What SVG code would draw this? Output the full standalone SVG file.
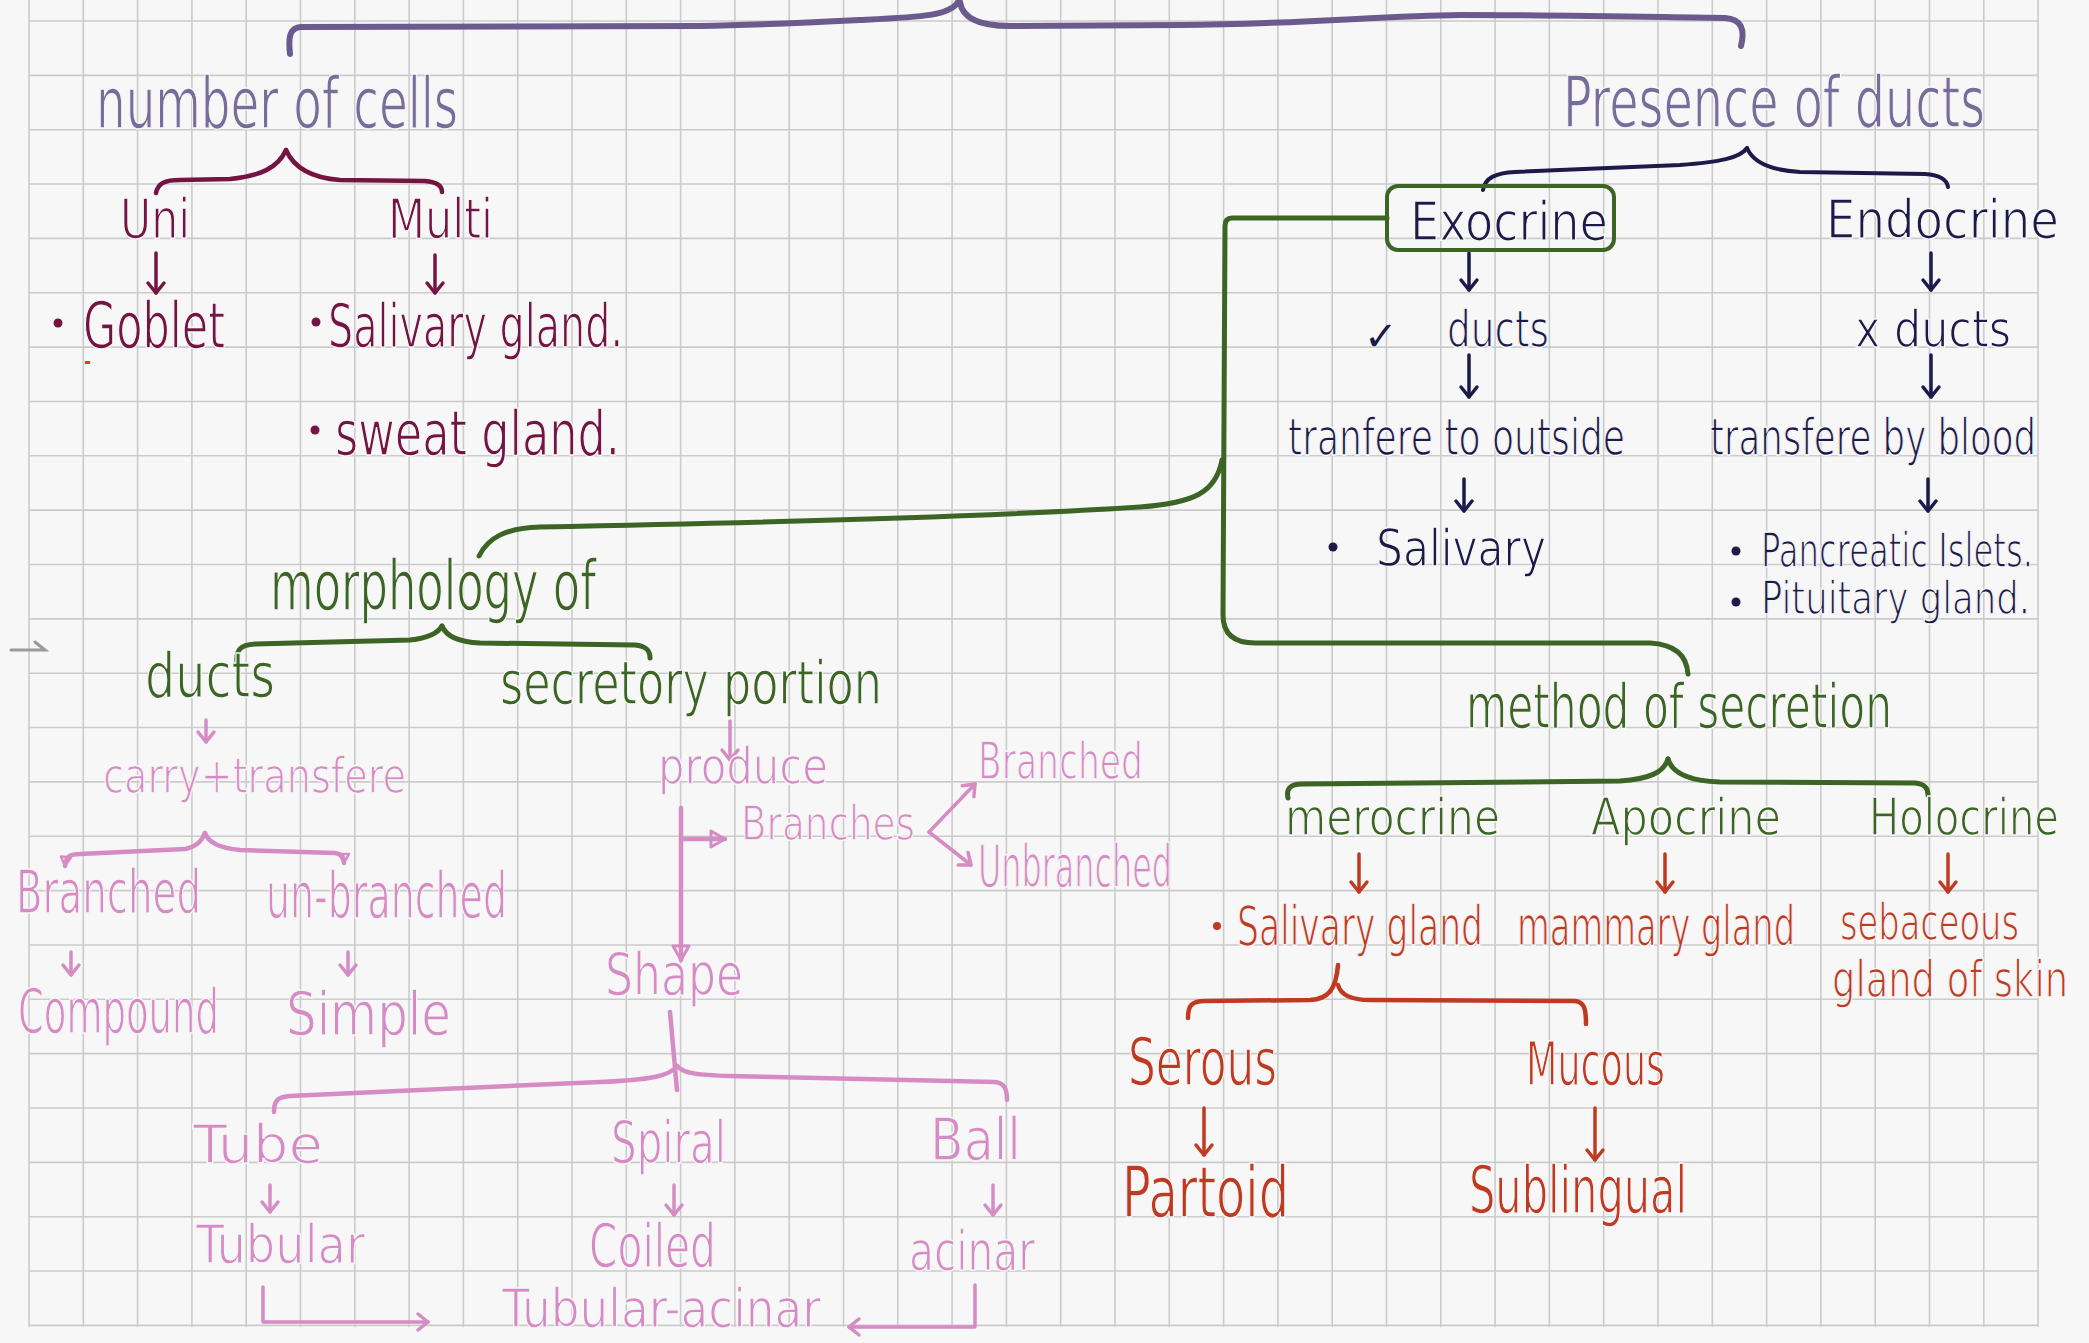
<svg xmlns="http://www.w3.org/2000/svg" width="2089" height="1343" viewBox="0 0 2089 1343">
<style>
text{font-family:"Liberation Sans Narrow","DejaVu Sans Condensed","Liberation Sans",sans-serif;stroke:#f7f7f7;stroke-width:1.4}
.pu{fill:#786c9b}.mr{fill:#741443}.nv{fill:#1d1a4a}.gr{fill:#3c6425}.rd{fill:#c03a22}.pk{fill:#d68bc4}
circle{stroke:none}
.c{fill:none;stroke-linecap:round;stroke-linejoin:round}
.cpu{stroke:#6b5a8e;stroke-width:6}.cmr{stroke:#741443;stroke-width:4.5}.cnv{stroke:#1d1a4a;stroke-width:4}
.cgr{stroke:#3c6425;stroke-width:5}.crd{stroke:#c03a22;stroke-width:4.5}.cpk{stroke:#d68bc4;stroke-width:4.5}
.ar{stroke-width:3.5}
</style>
<defs>
<marker id="aMr" viewBox="-16 -12 20 24" markerWidth="20" markerHeight="24" markerUnits="userSpaceOnUse" orient="auto"><path d="M-10,-8 L0,0 L-10,8" fill="none" stroke="#741443" stroke-width="3.5" stroke-linecap="round" stroke-linejoin="round"/></marker>
<marker id="aNv" viewBox="-16 -12 20 24" markerWidth="20" markerHeight="24" markerUnits="userSpaceOnUse" orient="auto"><path d="M-10,-8 L0,0 L-10,8" fill="none" stroke="#1d1a4a" stroke-width="3.5" stroke-linecap="round" stroke-linejoin="round"/></marker>
<marker id="aRd" viewBox="-16 -12 20 24" markerWidth="20" markerHeight="24" markerUnits="userSpaceOnUse" orient="auto"><path d="M-10,-8 L0,0 L-10,8" fill="none" stroke="#c03a22" stroke-width="3.5" stroke-linecap="round" stroke-linejoin="round"/></marker>
<marker id="aPk" viewBox="-16 -12 20 24" markerWidth="20" markerHeight="24" markerUnits="userSpaceOnUse" orient="auto"><path d="M-10,-8 L0,0 L-10,8" fill="none" stroke="#d68bc4" stroke-width="3.5" stroke-linecap="round" stroke-linejoin="round"/></marker>
<marker id="tPk" viewBox="-18 -12 22 24" markerWidth="22" markerHeight="24" markerUnits="userSpaceOnUse" orient="auto"><path d="M-14,-8 L0,0 L-14,8 Z" fill="none" stroke="#d68bc4" stroke-width="3" stroke-linejoin="round"/></marker>
<marker id="sPk" viewBox="-12 -8 14 16" markerWidth="14" markerHeight="16" markerUnits="userSpaceOnUse" orient="auto"><path d="M-9,-5 L0,0 L-9,5 Z" fill="none" stroke="#d68bc4" stroke-width="2.5" stroke-linejoin="round"/></marker>
</defs>
<rect width="2089" height="1343" fill="#f7f7f7"/>
<g id="grid" fill="none" stroke="#cbcbcb" stroke-width="1.6">
<path d="M29 0V1327M83.3 0V1327M137.6 0V1327M191.9 0V1327M246.2 0V1327M300.5 0V1327M354.8 0V1327M409.1 0V1327M463.4 0V1327M517.7 0V1327M572 0V1327M626.3 0V1327M680.6 0V1327M734.9 0V1327M789.2 0V1327M843.5 0V1327M897.8 0V1327M952.1 0V1327M1006.4 0V1327M1060.7 0V1327M1115 0V1327M1169.3 0V1327M1223.6 0V1327M1277.9 0V1327M1332.2 0V1327M1386.5 0V1327M1440.8 0V1327M1495.1 0V1327M1549.4 0V1327M1603.7 0V1327M1658 0V1327M1712.3 0V1327M1766.6 0V1327M1820.9 0V1327M1875.2 0V1327M1929.5 0V1327M1983.8 0V1327M2038.1 0V1327"/>
<path d="M29 21H2038M29 75.35H2038M29 129.7H2038M29 184.05H2038M29 238.4H2038M29 292.75H2038M29 347.1H2038M29 401.45H2038M29 455.8H2038M29 510.15H2038M29 564.5H2038M29 618.85H2038M29 673.2H2038M29 727.55H2038M29 781.9H2038M29 836.25H2038M29 890.6H2038M29 944.95H2038M29 999.3H2038M29 1053.65H2038M29 1108H2038M29 1162.35H2038M29 1216.7H2038M29 1271.05H2038M29 1325.4H2038"/>
</g>
<path d="M11,650 L45,650 L35,642" fill="none" stroke="#9a9a9a" stroke-width="3" stroke-linecap="round"/>
<rect x="85" y="361" width="5" height="3" fill="#e53a1e"/>

<g id="connectors">
<path class="c cpu" d="M290,54 C288,36 290,27 302,27 L700,26 C760,25 800,23 860,20 C920,17 950,16 958,2"/>
<path class="c cpu" d="M960,2 C962,16 975,26 1010,26 L1180,25 C1300,24 1380,16 1460,15 C1560,15 1650,17 1725,18 C1742,19 1745,30 1741,46"/>
<path class="c cmr" d="M156,193 C158,183 165,180 180,180 L230,179 C260,176 278,168 286,150"/>
<path class="c cmr" d="M286,150 C294,168 312,178 340,180 L425,181 C438,182 442,186 442,192"/>
<path class="c cmr ar" d="M156,253 L156,293" marker-end="url(#aMr)"/>
<path class="c cmr ar" d="M435,255 L435,293" marker-end="url(#aMr)"/>
<path class="c cnv" d="M1483,190 C1485,178 1495,173 1515,172 L1680,165 C1720,162 1740,158 1747,148"/>
<path class="c cnv" d="M1747,148 C1752,160 1765,170 1800,172 L1925,174 C1940,175 1947,180 1948,187"/>
<path class="c cnv ar" d="M1469,253 L1469,290" marker-end="url(#aNv)"/>
<path class="c cnv ar" d="M1931,253 L1931,290" marker-end="url(#aNv)"/>
<path class="c cnv ar" d="M1469,355 L1469,397" marker-end="url(#aNv)"/>
<path class="c cnv ar" d="M1931,355 L1931,397" marker-end="url(#aNv)"/>
<path class="c cnv ar" d="M1464,479 L1464,511" marker-end="url(#aNv)"/>
<path class="c cnv ar" d="M1928,479 L1928,511" marker-end="url(#aNv)"/>
<path class="c cgr" d="M1387,218 L1232,218 Q1225,218 1225,226 L1223,615 Q1223,643 1255,643 L1650,643 Q1686,645 1688,674"/>
<path class="c cgr" d="M1222,460 C1216,492 1195,503 1140,507 C1000,516 800,522 540,527 C505,528 488,538 479,556"/>
<path class="c cgr" d="M237,662 C236,650 240,645 255,644 L410,640 C430,638 438,633 442,626"/>
<path class="c cgr" d="M442,626 C446,636 458,642 480,643 L635,645 C646,646 650,650 650,658"/>
<path class="c cgr" d="M1288,798 C1286,789 1290,784 1302,784 L1620,781 C1650,779 1664,772 1668,759"/>
<path class="c cgr" d="M1668,759 C1672,773 1690,781 1720,782 L1915,783 C1925,784 1928,788 1928,795"/>
<path class="c crd ar" d="M1359,854 L1359,892" marker-end="url(#aRd)"/>
<path class="c crd ar" d="M1665,854 L1665,892" marker-end="url(#aRd)"/>
<path class="c crd ar" d="M1948,854 L1948,892" marker-end="url(#aRd)"/>
<path class="c crd" d="M1188,1018 C1188,1005 1192,1001 1205,1001 L1310,1000 C1328,999 1336,990 1338,965"/>
<path class="c crd" d="M1338,985 C1341,996 1352,1000 1370,1000 L1575,1001 C1584,1002 1586,1008 1586,1024"/>
<path class="c crd ar" d="M1204,1108 L1204,1155" marker-end="url(#aRd)"/>
<path class="c crd ar" d="M1595,1108 L1595,1160" marker-end="url(#aRd)"/>
<path class="c cpk ar" d="M206,720 L206,742" marker-end="url(#aPk)"/>
<path class="c cpk" d="M205,833 C202,841 196,847 185,849 L80,854 C70,854 66,856 65,866" marker-end="url(#sPk)"/>
<path class="c cpk" d="M205,833 C208,842 218,848 240,850 L335,853 C342,854 344,858 344,863" marker-end="url(#sPk)"/>
<path class="c cpk ar" d="M71,952 L71,975" marker-end="url(#aPk)"/>
<path class="c cpk ar" d="M348,952 L348,975" marker-end="url(#aPk)"/>
<path class="c cpk ar" d="M730,721 L730,760" marker-end="url(#aPk)"/>
<path class="c cpk" d="M681,808 L681,960" marker-end="url(#tPk)"/>
<path class="c cpk" d="M681,839 L725,839" marker-end="url(#tPk)"/>
<path class="c cpk ar" d="M929,832 L975,784" marker-end="url(#aPk)"/>
<path class="c cpk ar" d="M929,832 L971,865" marker-end="url(#aPk)"/>
<path class="c cpk" d="M670,1012 L677,1090"/>
<path class="c cpk" d="M677,1066 C670,1076 650,1080 600,1082 L420,1090 L290,1096 C278,1097 274,1100 274,1112"/>
<path class="c cpk" d="M677,1066 C684,1074 700,1075 730,1076 L995,1082 C1004,1083 1007,1088 1007,1100"/>
<path class="c cpk ar" d="M270,1185 L270,1212" marker-end="url(#aPk)"/>
<path class="c cpk ar" d="M674,1185 L674,1215" marker-end="url(#aPk)"/>
<path class="c cpk ar" d="M993,1185 L993,1215" marker-end="url(#aPk)"/>
<path class="c cpk ar" d="M263,1287 L263,1322 L428,1322" marker-end="url(#aPk)"/>
<path class="c cpk ar" d="M975,1285 L975,1327 L849,1327" marker-end="url(#aPk)"/>
</g>

<g id="n-number-of-cells"><text class="pu" x="96" y="128" font-size="72" textLength="362" lengthAdjust="spacingAndGlyphs">number of cells</text></g>
<g id="n-presence-of-ducts"><text class="pu" x="1563" y="127" font-size="72" textLength="422" lengthAdjust="spacingAndGlyphs">Presence of ducts</text></g>

<g id="n-uni"><text class="mr" x="120" y="238" font-size="55" textLength="70" lengthAdjust="spacingAndGlyphs">Uni</text></g>
<g id="n-multi"><text class="mr" x="388" y="238" font-size="55" textLength="105" lengthAdjust="spacingAndGlyphs">Multi</text></g>
<g id="n-goblet"><circle class="mr" cx="58" cy="323" r="4.5"/><text class="mr" x="83" y="348" font-size="64" textLength="142" lengthAdjust="spacingAndGlyphs">Goblet</text></g>
<g id="n-salivary-gland-1"><circle class="mr" cx="316" cy="322" r="4.5"/><text class="mr" x="328" y="347" font-size="60" textLength="295" lengthAdjust="spacingAndGlyphs">Salivary gland.</text></g>
<g id="n-sweat-gland"><circle class="mr" cx="315" cy="430" r="4.5"/><text class="mr" x="335" y="455" font-size="62" textLength="285" lengthAdjust="spacingAndGlyphs">sweat gland.</text></g>

<g id="n-exocrine"><rect x="1387" y="186" width="227" height="64" rx="11" fill="none" stroke="#3c6425" stroke-width="4"/><text class="nv" x="1410" y="240" font-size="54" textLength="198" lengthAdjust="spacingAndGlyphs">Exocrine</text></g>
<g id="n-endocrine"><text class="nv" x="1826" y="238" font-size="54" textLength="233" lengthAdjust="spacingAndGlyphs">Endocrine</text></g>
<g id="n-ducts-yes"><text class="nv" x="1364" y="350" font-size="40" style="font-family:'DejaVu Sans',sans-serif;stroke:none">✓</text><text class="nv" x="1447" y="347" font-size="52" textLength="102" lengthAdjust="spacingAndGlyphs">ducts</text></g>
<g id="n-ducts-no"><text class="nv" x="1855" y="347" font-size="52" textLength="156" lengthAdjust="spacingAndGlyphs">x ducts</text></g>
<g id="n-tranfere-outside"><text class="nv" x="1288" y="455" font-size="52" textLength="337" lengthAdjust="spacingAndGlyphs">tranfere to outside</text></g>
<g id="n-transfere-blood"><text class="nv" x="1710" y="455" font-size="52" textLength="326" lengthAdjust="spacingAndGlyphs">transfere by blood</text></g>
<g id="n-salivary-2"><circle class="nv" cx="1333" cy="547" r="4.5"/><text class="nv" x="1376" y="566" font-size="52" textLength="170" lengthAdjust="spacingAndGlyphs">Salivary</text></g>
<g id="n-pancreatic"><circle class="nv" cx="1736" cy="551" r="4.5"/><text class="nv" x="1761" y="567" font-size="48" textLength="272" lengthAdjust="spacingAndGlyphs">Pancreatic Islets.</text></g>
<g id="n-pituitary"><circle class="nv" cx="1736" cy="602" r="4.5"/><text class="nv" x="1761" y="614" font-size="46" textLength="269" lengthAdjust="spacingAndGlyphs">Pituitary gland.</text></g>

<g id="n-morphology"><text class="gr" x="270" y="610" font-size="70" textLength="326" lengthAdjust="spacingAndGlyphs">morphology of</text></g>
<g id="n-ducts-g"><text class="gr" x="145" y="697" font-size="62" textLength="130" lengthAdjust="spacingAndGlyphs">ducts</text></g>
<g id="n-secretory"><text class="gr" x="500" y="704" font-size="60" textLength="382" lengthAdjust="spacingAndGlyphs">secretory portion</text></g>
<g id="n-method"><text class="gr" x="1466" y="728" font-size="62" textLength="426" lengthAdjust="spacingAndGlyphs">method of secretion</text></g>
<g id="n-merocrine"><text class="gr" x="1285" y="835" font-size="52" textLength="215" lengthAdjust="spacingAndGlyphs">merocrine</text></g>
<g id="n-apocrine"><text class="gr" x="1591" y="835" font-size="52" textLength="190" lengthAdjust="spacingAndGlyphs">Apocrine</text></g>
<g id="n-holocrine"><text class="gr" x="1869" y="835" font-size="52" textLength="190" lengthAdjust="spacingAndGlyphs">Holocrine</text></g>

<g id="n-salivary-gland-3"><circle class="rd" cx="1217" cy="926" r="4"/><text class="rd" x="1237" y="945" font-size="56" textLength="246" lengthAdjust="spacingAndGlyphs">Salivary gland</text></g>
<g id="n-mammary"><text class="rd" x="1517" y="945" font-size="56" textLength="278" lengthAdjust="spacingAndGlyphs">mammary gland</text></g>
<g id="n-sebaceous"><text class="rd" x="1840" y="940" font-size="52" textLength="179" lengthAdjust="spacingAndGlyphs">sebaceous</text><text class="rd" x="1832" y="997" font-size="52" textLength="236" lengthAdjust="spacingAndGlyphs">gland of skin</text></g>
<g id="n-serous"><text class="rd" x="1128" y="1085" font-size="66" textLength="149" lengthAdjust="spacingAndGlyphs">Serous</text></g>
<g id="n-mucous"><text class="rd" x="1526" y="1085" font-size="60" textLength="139" lengthAdjust="spacingAndGlyphs">Mucous</text></g>
<g id="n-partoid"><text class="rd" x="1122" y="1217" font-size="72" textLength="167" lengthAdjust="spacingAndGlyphs">Partoid</text></g>
<g id="n-sublingual"><text class="rd" x="1469" y="1213" font-size="66" textLength="218" lengthAdjust="spacingAndGlyphs">Sublingual</text></g>

<g id="n-carry"><text class="pk" x="103" y="793" font-size="50" textLength="303" lengthAdjust="spacingAndGlyphs">carry+transfere</text></g>
<g id="n-branched-1"><text class="pk" x="16" y="913" font-size="60" textLength="185" lengthAdjust="spacingAndGlyphs">Branched</text></g>
<g id="n-unbranched-1"><text class="pk" x="266" y="918" font-size="64" textLength="241" lengthAdjust="spacingAndGlyphs">un-branched</text></g>
<g id="n-compound"><text class="pk" x="18" y="1033" font-size="62" textLength="201" lengthAdjust="spacingAndGlyphs">Compound</text></g>
<g id="n-simple"><text class="pk" x="286" y="1035" font-size="60" textLength="165" lengthAdjust="spacingAndGlyphs">Simple</text></g>
<g id="n-produce"><text class="pk" x="658" y="784" font-size="52" textLength="170" lengthAdjust="spacingAndGlyphs">produce</text></g>
<g id="n-branches"><text class="pk" x="741" y="840" font-size="48" textLength="174" lengthAdjust="spacingAndGlyphs">Branches</text></g>
<g id="n-branched-2"><text class="pk" x="978" y="779" font-size="52" textLength="165" lengthAdjust="spacingAndGlyphs">Branched</text></g>
<g id="n-unbranched-2"><text class="pk" x="978" y="887" font-size="58" textLength="194" lengthAdjust="spacingAndGlyphs">Unbranched</text></g>
<g id="n-shape"><text class="pk" x="605" y="995" font-size="58" textLength="138" lengthAdjust="spacingAndGlyphs">Shape</text></g>
<g id="n-tube"><text class="pk" x="193" y="1163" font-size="54" textLength="130" lengthAdjust="spacingAndGlyphs">Tube</text></g>
<g id="n-spiral"><text class="pk" x="611" y="1163" font-size="58" textLength="115" lengthAdjust="spacingAndGlyphs">Spiral</text></g>
<g id="n-ball"><text class="pk" x="930" y="1160" font-size="58" textLength="91" lengthAdjust="spacingAndGlyphs">Ball</text></g>
<g id="n-tubular"><text class="pk" x="196" y="1263" font-size="54" textLength="169" lengthAdjust="spacingAndGlyphs">Tubular</text></g>
<g id="n-coiled"><text class="pk" x="589" y="1267" font-size="60" textLength="127" lengthAdjust="spacingAndGlyphs">Coiled</text></g>
<g id="n-acinar"><text class="pk" x="909" y="1270" font-size="56" textLength="126" lengthAdjust="spacingAndGlyphs">acinar</text></g>
<g id="n-tubular-acinar"><text class="pk" x="502" y="1327" font-size="54" textLength="319" lengthAdjust="spacingAndGlyphs">Tubular-acinar</text></g>
</svg>
